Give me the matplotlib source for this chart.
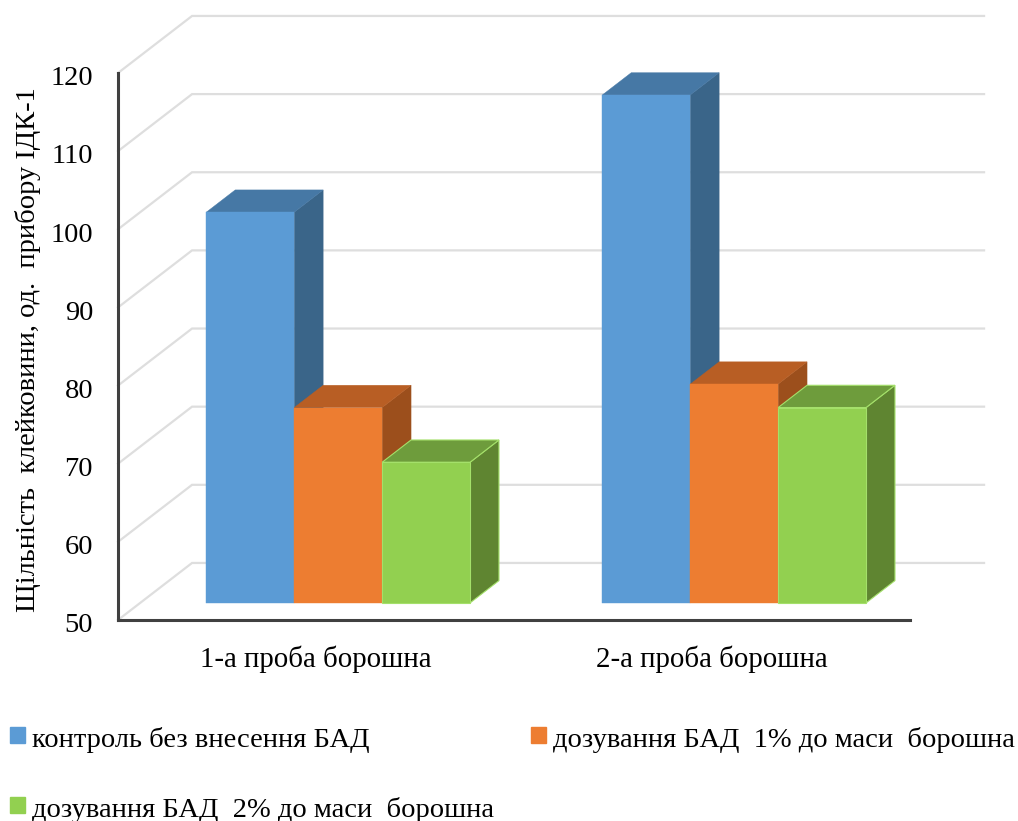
#!/usr/bin/env python3
"""Gluten density for two flour samples, drawn as pseudo-3D column chart."""
import numpy as np
import matplotlib
matplotlib.use("Agg")
import matplotlib.pyplot as plt
from matplotlib.patches import Patch, Polygon
from matplotlib.transforms import ScaledTranslation

plt.rcParams["font.family"] = ["Liberation Serif", "DejaVu Serif"]

samples = ["1-а проба борошна", "2-а проба борошна"]
series = ["контроль без внесення БАД",
          "дозування БАД  1% до маси  борошна",
          "дозування БАД  2% до маси  борошна"]
control = [100, 115]
dose_1 = [75, 78]
dose_2 = [68, 75]
y_ticks = [50, 60, 70, 80, 90, 100, 110, 120]
ylabel = "Щільність  клейковини, од.  прибору ІДК-1"

# front, top, side colours per series
faces = [("#5B9BD5", "#4678A5", "#3A6589"),
         ("#ED7D31", "#B85E24", "#9C4F1C"),
         ("#92D050", "#6E9C3C", "#5F8531")]

# oblique projection: full wall depth in data units
WALL_DX = 0.187
WALL_DY = 7.3
NEAR, FAR = 0.30, 0.69
BAR_W = 0.222


def shift(x, y, d):
    return x + WALL_DX * d, y + WALL_DY * d


def draw_column(ax, x0, value, cols, z, edge=None):
    base = y_ticks[0]
    x1 = x0 + BAR_W
    front = [shift(x0, base, NEAR), shift(x1, base, NEAR),
             shift(x1, value, NEAR), shift(x0, value, NEAR)]
    top = [shift(x0, value, NEAR), shift(x1, value, NEAR),
           shift(x1, value, FAR), shift(x0, value, FAR)]
    side = [shift(x1, base, NEAR), shift(x1, base, FAR),
            shift(x1, value, FAR), shift(x1, value, NEAR)]
    for pts, c in zip([side, top, front], [cols[2], cols[1], cols[0]]):
        ax.add_patch(Polygon(pts, closed=True, facecolor=c, clip_on=False, zorder=z,
                             edgecolor=edge if edge else c, linewidth=0.8 if edge else 0.3))


fig = plt.figure(figsize=(10.18, 8.21), dpi=100)
ax = fig.add_axes([118 / 1018, 1 - 620 / 821, 792 / 1018, 547 / 821])
ax.set_xlim(0, 2)
ax.set_ylim(y_ticks[0], y_ticks[-1])

# back wall and left wall gridlines
for v in y_ticks:
    wx, wy = shift(0, v, 1)
    ex, _ = shift(2, v, 1)
    ax.plot([0, wx, ex], [v, wy, wy], color="#DEDEDE", lw=1.6, clip_on=False, zorder=1,
            solid_joinstyle="miter")

# columns, left to right so nearer faces cover the sides behind them
for i in range(len(samples)):
    for j, vals in enumerate([control, dose_1, dose_2]):
        x0 = i + 0.5 + (j - 1.5) * BAR_W
        draw_column(ax, x0, vals[i], faces[j], 3 + i * 3 + j,
                    edge="#A4E06A" if j == 2 else None)

for s in ["top", "right"]:
    ax.spines[s].set_visible(False)
for s in ["left", "bottom"]:
    ax.spines[s].set_color("#404040")
    ax.spines[s].set_linewidth(2.2)

ax.set_yticks(y_ticks)
ax.set_xticks(np.arange(len(samples)) + 0.5)
ax.set_xticklabels(samples)
ax.tick_params(axis="both", length=0)
ax.tick_params(axis="y", labelsize=20.5, pad=18)
ax.tick_params(axis="x", labelsize=20.8, pad=18)
# y numbers sit slightly below their gridline ends
nudge = ScaledTranslation(0, -2 / 72, fig.dpi_scale_trans)
for lab in ax.get_yticklabels():
    lab.set_transform(lab.get_transform() + nudge)
fig.text(28 / 1018, 1 - 350 / 821, ylabel, rotation=90, fontsize=20.5, ha="center", va="center")

handles = [Patch(facecolor=f[0], edgecolor=f[0]) for f in faces]
leg = fig.legend([handles[0], handles[2], handles[1]],
                 [series[0], series[2], series[1]],
                 ncols=2, loc="upper left", bbox_to_anchor=(10 / 1018, 1 - 727 / 821),
                 frameon=False, fontsize=20.5, borderaxespad=0, borderpad=0,
                 handlelength=0.52, handleheight=0.52, handletextpad=0.25,
                 labelspacing=1.55, columnspacing=1.3)
# squares sit a little above the text centre
for h in leg.legend_handles:
    h.set_y(h.get_y() + 1.4)

fig.savefig("out.png", dpi=100)
plt.close("all")
